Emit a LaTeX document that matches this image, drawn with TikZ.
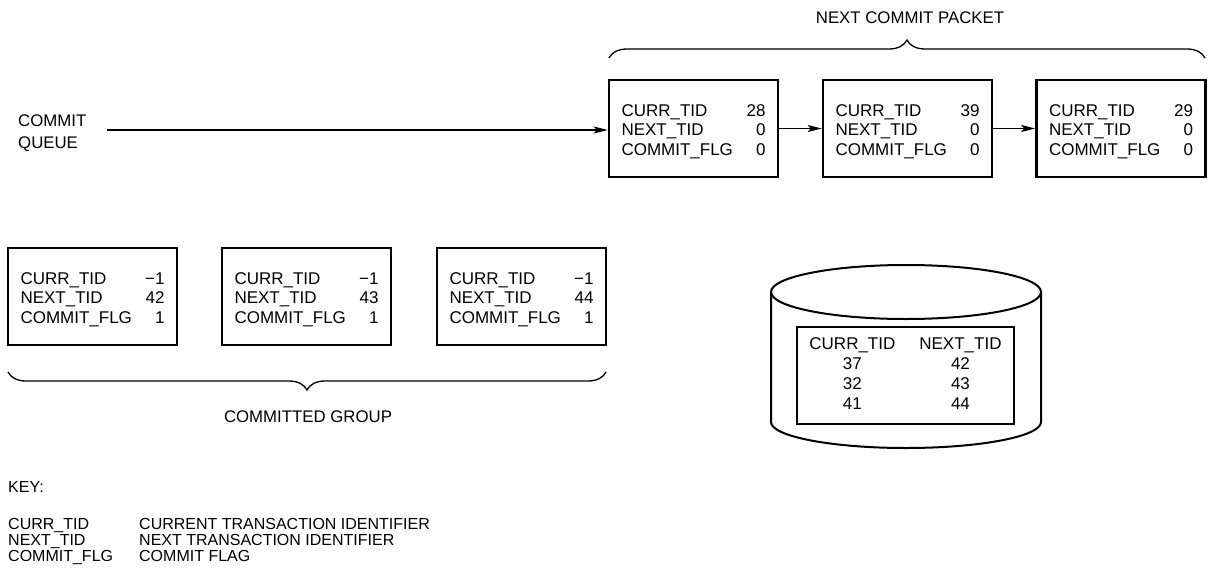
\documentclass[tikz,border=0pt]{standalone}
\usepackage{fontspec}
\setmainfont{Liberation Sans}
\usetikzlibrary{arrows.meta,decorations.pathreplacing}
\newcommand\rowsT[3]{\raisebox{-3.5pt}[\height][\depth]{\begin{tabular*}{144pt}{@{}l@{\extracolsep{\fill}}r@{}}CURR\_TID & #1\\ NEXT\_TID & #2\\ COMMIT\_FLG & #3\end{tabular*}}}
\tikzset{
  recbox/.style={draw, line width=2.6pt, minimum width=169pt, minimum height=97pt, inner sep=0pt, font=\fontsize{17}{19.5}\selectfont},
  lbl/.style={font=\fontsize{16.8}{22}\selectfont, inner sep=0pt},
  conn/.style={line width=1.3pt, -{Stealth[length=14pt,width=7pt,inset=3pt]}},
  brc/.style={line width=1.3pt, decorate, decoration={brace, amplitude=18pt}},
  cyl/.style={line width=2pt},
}
\begin{document}
\begin{tikzpicture}[x=1pt,y=-1pt]
\useasboundingbox (0,0) rectangle (1210,570);
% next commit packet
\node[lbl] (ncp) at (910,18) {NEXT COMMIT PACKET};
\draw[brc] (609,58) -- (1205,58);
\node[recbox] (t1) at (693.5,128.5) {\rowsT{28}{0}{0}};
\node[recbox] (t2) at (907.5,128.5) {\rowsT{39}{0}{0}};
\node[recbox] (t3) at (1121,128.5) {\rowsT{29}{0}{0}};
\draw[conn] (t1) -- (t2);
\draw[conn] (t2) -- (t3);
% commit queue
\node[lbl, anchor=west, align=left] (cq) at (18,133) {COMMIT\\QUEUE};
\coordinate (qs) at (107,130);
\draw[conn] (qs) -- (qs -| t1.west);
% committed group
\node[recbox] (b1) at (92.5,296.5) {\rowsT{\char"2212 1}{42}{1}};
\node[recbox] (b2) at (306.5,296.5) {\rowsT{\char"2212 1}{43}{1}};
\node[recbox] (b3) at (521.5,296.5) {\rowsT{\char"2212 1}{44}{1}};
\draw[brc] (606,372) -- (8,372);
\node[lbl] (cg) at (308,417) {COMMITTED GROUP};
% database cylinder
\draw[cyl] (906,292) ellipse [x radius=135, y radius=27];
\draw[cyl] (771,292) -- (771,422) arc[start angle=180, end angle=0, x radius=135, y radius=26] -- (1041,292);
\node[draw, line width=1.3pt, minimum width=217pt, minimum height=97pt, inner sep=0pt, font=\fontsize{17}{20}\selectfont] (tbl) at (905.5,375.5)
  {\begin{tabular}{@{}c@{\hspace{24pt}}c@{}}CURR\_TID & NEXT\_TID\\ 37 & 42\\ 32 & 43\\ 41 & 44\end{tabular}};
% key
\node[anchor=west, inner sep=0pt, font=\fontsize{16}{16}\selectfont] (key) at (8,487) {KEY:};
\node[anchor=north west, inner sep=0pt, font=\fontsize{16}{15.5}\selectfont] (keytab) at (8,518)
  {\begin{tabular}{@{}p{131pt}@{}l@{}}CURR\_TID & CURRENT TRANSACTION IDENTIFIER\\ NEXT\_TID & NEXT TRANSACTION IDENTIFIER\\ COMMIT\_FLG & COMMIT FLAG\end{tabular}};
\end{tikzpicture}
\end{document}
